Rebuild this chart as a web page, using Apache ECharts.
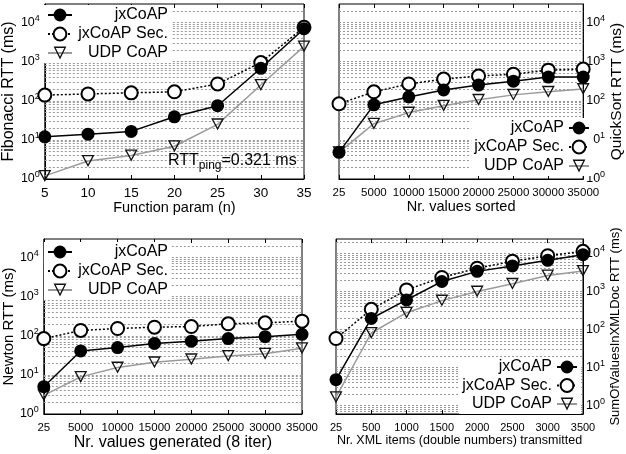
<!DOCTYPE html>
<html>
<head>
<meta charset="utf-8">
<script src="https://cdn.jsdelivr.net/npm/echarts@6/dist/echarts.min.js"></script>
<style>
  html, body { margin: 0; padding: 0; background: #fff; }
  #main { width: 626px; height: 454px; }
</style>
</head>
<body>
<div id="main"></div>
<script>
var FONT = '"Liberation Sans", Arial, Helvetica, sans-serif';
var names = ['jxCoAP', 'jxCoAP Sec.', 'UDP CoAP'];

// Fibonacci
var fibParam = ['5', '10', '15', '20', '25', '30', '35'];
var fibJx  = [12, 14, 16.5, 39, 75, 680, 7000];
var fibSec = [140, 150, 160, 170, 270, 950, 7600];
var fibUdp = [1.2, 2.9, 4.0, 6.9, 25, 254, 2470];

// QuickSort
var qsValues = ['25', '5000', '10000', '15000', '20000', '25000', '30000', '35000'];
var qsJx  = [4.8, 79, 126, 190, 253, 318, 405, 405];
var qsSec = [84, 170, 270, 360, 430, 480, 610, 650];
var qsUdp = [4.8, 26, 50, 75, 106, 142, 170, 200];

// Newton
var nwValues = ['25', '5000', '10000', '15000', '20000', '25000', '30000', '35000'];
var nwJx  = [5.0, 41, 50, 64, 73, 85, 95, 109];
var nwSec = [85, 137, 154, 166, 173, 203, 215, 237];
var nwUdp = [3.0, 8.9, 15.4, 21, 25, 30.5, 35, 48];

// SumOfValuesInXMLDoc
var xmlItems = ['25', '500', '1000', '1500', '2000', '2500', '3000', '3500'];
var xmlJx  = [4.8, 195, 600, 1830, 3380, 4700, 6600, 9300];
var xmlSec = [58, 340, 1100, 2340, 4100, 6200, 8700, 11400];
var xmlUdp = [1.66, 81, 277, 575, 995, 1590, 2640, 3470];

// log grid: every m * 10^k
var gridMult = [1, 2, 3, 4, 5, 6, 7, 8, 9];
var decades = [0.1, 1, 10, 100, 1000, 10000];

function gridValues(min, max) {
  var out = [];
  decades.forEach(function (d) {
    gridMult.forEach(function (m) {
      var v = m * d;
      if (v > min * 1.001 && v < max * 0.999) out.push(v);
    });
  });
  return out;
}

var triDown = 'path://M-10,-9L10,-9L0,9ZM-6.6,-7L0,4.9L6.6,-7Z';

function powLabel(v) {
  var e = Math.log10(v);
  if (Math.abs(e - Math.round(e)) > 1e-6) return '';
  return '{b|10}{s|' + Math.round(e) + '}';
}

var grids = [], xAxes = [], yAxes = [], series = [], legends = [];

function addPanel(p) {
  var gi = grids.length;
  grids.push({ left: p.grid[0], top: p.grid[1], width: p.grid[2], height: p.grid[3],
    show: true, borderColor: '#000', borderWidth: 1, backgroundColor: 'transparent' });

  xAxes.push({
    gridIndex: gi, type: 'category', boundaryGap: false, data: p.cats,
    axisLine: { lineStyle: { color: '#000', width: 1 } },
    axisTick: { inside: true, length: 4, lineStyle: { color: '#000' } },
    axisLabel: { color: '#000', fontSize: p.xFont, fontFamily: FONT, margin: p.xMargin,
      interval: 0, hideOverlap: false },
    splitLine: { show: false },
    name: p.xName, nameLocation: 'middle', nameGap: p.xNameGap,
    nameTextStyle: { color: '#000', fontSize: p.xNameFont, fontFamily: FONT }
  });
  xAxes.push({
    gridIndex: gi, type: 'category', boundaryGap: false, data: p.cats, position: 'top',
    axisLine: { show: false },
    axisTick: { inside: true, length: 4, interval: 0, lineStyle: { color: '#000' } },
    axisLabel: { show: false }, splitLine: { show: false }
  });

  var yBase = {
    gridIndex: gi, type: 'log', logBase: 10, min: p.yMin, max: p.yMax,
    axisLine: { show: true, lineStyle: { color: '#000' } },
    axisTick: { inside: true, length: 5, lineStyle: { color: '#000' } },
    splitLine: { show: false }
  };
  yAxes.push(Object.assign({}, yBase, {
    position: p.yPos,
    axisLabel: {
      color: '#000', fontFamily: FONT, margin: p.yMargin,
      formatter: powLabel,
      rich: {
        b: { fontSize: 12.5, fontFamily: FONT, color: '#000' },
        s: { fontSize: 9, fontFamily: FONT, color: '#000', padding: [0, 0, 9, 0] }
      }
    },
    name: p.yName, nameLocation: 'middle', nameGap: p.yNameGap, nameRotate: 90,
    nameTextStyle: { color: '#000', fontSize: p.yNameFont, fontFamily: FONT }
  }));
  yAxes.push(Object.assign({}, yBase, {
    position: p.yPos === 'left' ? 'right' : 'left',
    axisLine: { show: false }, axisLabel: { show: false }
  }));

  var xi = gi * 2, yi = gi * 2;
  var gv = gridValues(p.yMin, p.yMax);
  series.push({
    name: names[0], type: 'line', xAxisIndex: xi, yAxisIndex: yi, data: p.jx,
    symbol: 'circle', symbolSize: 13, itemStyle: { color: '#000' },
    lineStyle: { color: '#000', width: 1.5 }, z: 4,
    markLine: {
      silent: true, symbol: ['none', 'none'], animation: false,
      label: { show: false },
      lineStyle: { type: [2, 2], color: '#999', width: 1 },
      data: gv.map(function (v) { return { yAxis: v }; }),
      z: 1
    }
  });
  series.push({
    name: names[1], type: 'line', xAxisIndex: xi, yAxisIndex: yi, data: p.sec,
    symbol: 'emptyCircle', symbolSize: 13,
    itemStyle: { color: '#000', borderColor: '#000', borderWidth: 1.2, borderType: 'solid' },
    lineStyle: { color: '#000', width: 1.5, type: [2, 2] }, z: 3
  });
  series.push({
    name: names[2], type: 'line', xAxisIndex: xi, yAxisIndex: yi, data: p.udp,
    symbol: triDown, symbolSize: [13, 12], itemStyle: { color: '#111' },
    lineStyle: { color: '#9a9a9a', width: 1.5 }, z: 3
  });

  var lg = {
    orient: 'vertical', data: names, selectedMode: false,
    itemWidth: p.legend.iconW, itemHeight: 16, itemGap: p.legend.gap,
    backgroundColor: '#fff', padding: [2, 3, 2, 3],
    align: p.legend.align, top: p.legend.top,
    formatter: function (n) { return '{r|' + n + '}'; },
    textStyle: {
      color: '#000', fontFamily: FONT, fontSize: 16,
      rich: { r: { width: p.legend.textW, align: 'right', fontSize: 16, fontFamily: FONT, color: '#000' } }
    }
  };
  if (p.legend.left != null) lg.left = p.legend.left; else lg.right = p.legend.right;
  legends.push(lg);
}

addPanel({
  grid: [43, 4, 261, 175], cats: fibParam, jx: fibJx, sec: fibSec, udp: fibUdp,
  yMin: 1, yMax: 30000, yPos: 'left', yMargin: 5,
  xFont: 13.5, xMargin: 7, xName: 'Function param (n)', xNameGap: 18, xNameFont: 14.5,
  yName: 'Fibonacci RTT (ms)', yNameGap: 22, yNameFont: 16,
  legend: { left: 44, top: 5, align: 'left', iconW: 24, gap: 3, textW: 91 }
});
addPanel({
  grid: [339, 4, 254, 175], cats: qsValues, jx: qsJx, sec: qsSec, udp: qsUdp,
  yMin: 1, yMax: 30000, yPos: 'right', yMargin: 3,
  xFont: 11.5, xMargin: 8, xName: 'Nr. values sorted', xNameGap: 18, xNameFont: 14.5,
  yName: 'QuickSort RTT (ms)', yNameGap: 20, yNameFont: 15.5,
  legend: { right: 33, top: 118, align: 'right', iconW: 20, gap: 3, textW: 92 }
});
addPanel({
  grid: [43, 239, 259, 175], cats: nwValues, jx: nwJx, sec: nwSec, udp: nwUdp,
  yMin: 1, yMax: 30000, yPos: 'left', yMargin: 5,
  xFont: 11.5, xMargin: 8, xName: 'Nr. values generated (8 iter)', xNameGap: 19, xNameFont: 16,
  yName: 'Newton RTT (ms)', yNameGap: 22, yNameFont: 15,
  legend: { left: 44, top: 242, align: 'left', iconW: 24, gap: 3, textW: 91 }
});
addPanel({
  grid: [336, 239, 247, 175], cats: xmlItems, jx: xmlJx, sec: xmlSec, udp: xmlUdp,
  yMin: 0.6, yMax: 24000, yPos: 'right', yMargin: 3,
  xFont: 11, xMargin: 8, xName: 'Nr. XML items (double numbers) transmitted', xNameGap: 20, xNameFont: 12.5,
  yName: 'SumOfValuesInXMLDoc RTT (ms)', yNameGap: 20, yNameFont: 13,
  legend: { right: 45, top: 357, align: 'right', iconW: 20, gap: 2.5, textW: 92 }
});

var myChart = echarts.init(document.getElementById('main'), null, { renderer: 'canvas' });
myChart.setOption({
  animation: false,
  backgroundColor: '#fff',
  grid: grids,
  xAxis: xAxes,
  yAxis: yAxes,
  legend: legends,
  series: series,
  graphic: [{
    type: 'text', left: 168, top: 153, z: 5,
    style: {
      text: '{a|RTT}{b|ping}{a|=0.321 ms}',
      rich: {
        a: { fontSize: 16, fontFamily: FONT, fill: '#000' },
        b: { fontSize: 12, fontFamily: FONT, fill: '#000', padding: [9, 0, 0, 0] }
      }
    }
  }]
});
</script>
</body>
</html>
